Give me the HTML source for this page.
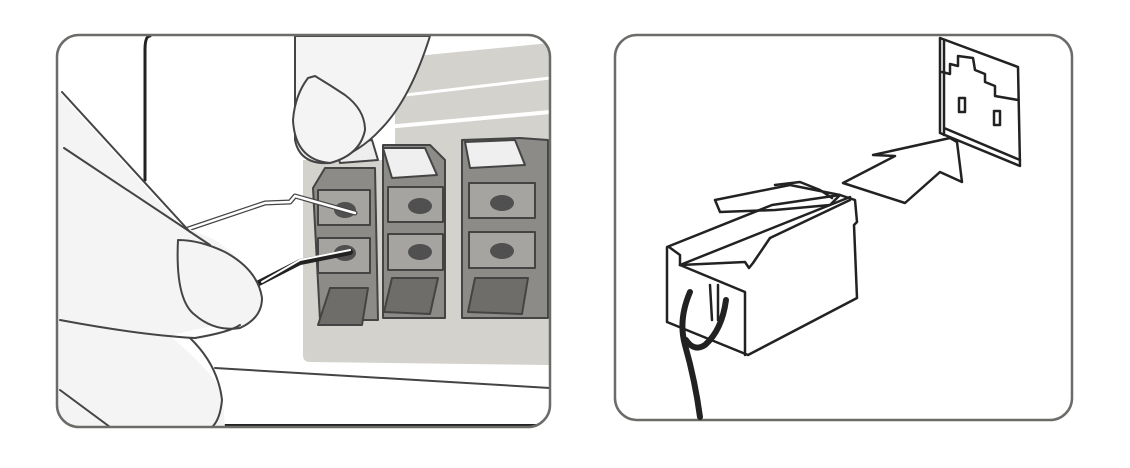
<!DOCTYPE html>
<html><head><style>html,body{margin:0;padding:0;background:#fff}svg{display:block}</style></head>
<body>
<svg width="1130" height="468" viewBox="0 0 1130 468" xmlns="http://www.w3.org/2000/svg" stroke-linejoin="round" stroke-linecap="round">
<!-- LEFT PANEL -->
<defs><clipPath id="c1"><rect x="57" y="35" width="493" height="392" rx="22"/></clipPath></defs>
<g clip-path="url(#c1)">
<rect x="57" y="35" width="493" height="392" fill="#fff"/>
<path d="M150 36 Q145 36 145 50 L145 180" fill="none" stroke="#222" stroke-width="3"/>
<!-- gray panel -->
<path d="M395 58 L550 43 L550 365 L310 362 Q303 362 303 355 L303 160 L395 160 Z" fill="#d3d2cd"/>
<path d="M380 98 L550 78" stroke="#fff" stroke-width="3"/>
<path d="M375 128 L550 112" stroke="#fff" stroke-width="4"/>
<path d="M215 368 L550 388" stroke="#444" stroke-width="2"/>
<path d="M60 425 L550 425" stroke="#222" stroke-width="2"/>
<!-- terminals -->
<g stroke="#444" stroke-width="2">
<path d="M313 188 L325 168 L375 168 L378 320 L320 320 Z" fill="#8c8b88"/>
<path d="M335 145 L372 140 L378 160 L340 163 Z" fill="#eee"/>
<path d="M383 145 L430 145 L445 160 L445 318 L383 318 Z" fill="#8c8b88"/>
<path d="M383 148 L425 148 L437 175 L392 178 Z" fill="#efefef"/>
<path d="M462 140 L520 138 L548 140 L548 318 L462 318 Z" fill="#8c8b88"/>
<path d="M465 142 L515 140 L525 165 L470 168 Z" fill="#efefef"/>
<rect x="318" y="190" width="52" height="35" fill="#a5a4a0"/>
<rect x="318" y="238" width="52" height="35" fill="#a5a4a0"/>
<rect x="388" y="187" width="55" height="35" fill="#a5a4a0"/>
<rect x="388" y="234" width="55" height="36" fill="#a5a4a0"/>
<rect x="469" y="183" width="66" height="35" fill="#a5a4a0"/>
<rect x="469" y="232" width="66" height="36" fill="#a5a4a0"/>
<path d="M330 288 L368 288 L362 325 L318 325 Z" fill="#6e6d6a"/>
<path d="M392 278 L438 278 L430 314 L384 312 Z" fill="#6e6d6a"/>
<path d="M475 278 L528 278 L522 314 L468 312 Z" fill="#6e6d6a"/>
</g>
<g fill="#505050">
<ellipse cx="345" cy="210" rx="11" ry="8"/><ellipse cx="345" cy="253" rx="11" ry="8"/>
<ellipse cx="420" cy="206" rx="12" ry="8"/><ellipse cx="420" cy="252" rx="12" ry="8"/>
<ellipse cx="502" cy="203" rx="12" ry="8"/><ellipse cx="502" cy="251" rx="12" ry="8"/>
</g>
<!-- wires -->
<path d="M185 230 L265 203 L290 202 L295 196 L355 213" fill="none" stroke="#444" stroke-width="5"/>
<path d="M185 230 L265 203 L290 202 L295 196 L355 213" fill="none" stroke="#fff" stroke-width="2.5"/>
<path d="M255 285 L300 262 L350 252" fill="none" stroke="#222" stroke-width="6"/>
<path d="M262 282 L300 260 L350 250" fill="none" stroke="#fff" stroke-width="2"/>
<!-- top finger -->
<path d="M295 36 L295 140 Q300 165 330 163 Q362 150 380 130 Q410 100 430 36 Z" fill="#f4f4f4" stroke="#444" stroke-width="2"/>
<path d="M308 78 Q295 95 293 120 Q295 160 330 163 Q360 155 365 130 Q365 110 345 95 Q330 85 315 76 Z" fill="#f4f4f4" stroke="#444" stroke-width="2"/>
<!-- bottom hand -->
<path d="M57 90 L180 225 L215 240 Q258 270 262 295 Q255 320 220 325 Q190 330 170 336 Q205 365 222 390 L225 427 L57 427 Z" fill="#f4f4f4"/>
<path d="M62 92 L190 232" stroke="#444" stroke-width="2"/>
<path d="M64 148 L210 245" stroke="#444" stroke-width="2"/>
<path d="M178 240 Q175 300 195 315 Q215 332 240 328 Q262 318 262 298 Q258 270 225 252 Q200 240 178 240 Z" fill="#f4f4f4" stroke="#444" stroke-width="2"/>
<path d="M60 320 Q140 335 195 338 Q230 332 240 325" fill="none" stroke="#444" stroke-width="2"/>
<path d="M190 338 Q218 365 222 400 Q220 420 212 427" fill="none" stroke="#444" stroke-width="2"/>
<path d="M60 390 L110 427" stroke="#444" stroke-width="2"/>
</g>
<rect x="57" y="35" width="493" height="392" rx="22" fill="none" stroke="#6b6b68" stroke-width="2.5"/>

<!-- RIGHT PANEL -->
<rect x="615" y="35" width="457" height="385" rx="22" fill="#fff" stroke="#6b6b68" stroke-width="2.5"/>
<g fill="none" stroke="#222" stroke-width="2.5">
<path d="M940 38 L1018 67 L1020 166 L940 133 Z"/>
<path d="M942 72 L950 74 L950 64 L958 66 L958 56 L973 58 L975 70 L985 74 L985 82 L995 86 L995 96 L1018 100"/>
<path d="M944 135 L944 40 M944 128 L1020 160"/>
<rect x="959" y="98" width="6" height="14"/>
<rect x="994" y="111" width="6" height="14"/>
<path d="M843 183 L895 156 L873 155 L950 138 L957 142 L962 182 L940 172 L905 203 Z" fill="#fff"/>
<path d="M667 247 L772 205 L840 195 L855 200 L857 222 L854 225 L857 298 L748 355 L667 322 Z" fill="#fff"/>
<path d="M669 247 L680 255 L680 265 L745 262 L749 268 L753 263 L770 238 L850 200"/>
<path d="M680 265 L745 292 L745 355"/>
<path d="M680 265 L850 197"/>
<path d="M715 200 L790 185 L840 195 L830 205 L775 210 L720 212 Z"/>
<path d="M775 185 L800 182 L820 190 L832 198"/>
<path d="M710 285 L712 320 M718 285 L718 320"/>
</g>
<g fill="none" stroke="#222" stroke-width="6">
<path d="M690 292 Q678 320 685 345 Q695 380 700 417"/>
<path d="M726 300 Q722 330 705 345 Q694 352 686 340"/>
</g>
</svg>
</body></html>
